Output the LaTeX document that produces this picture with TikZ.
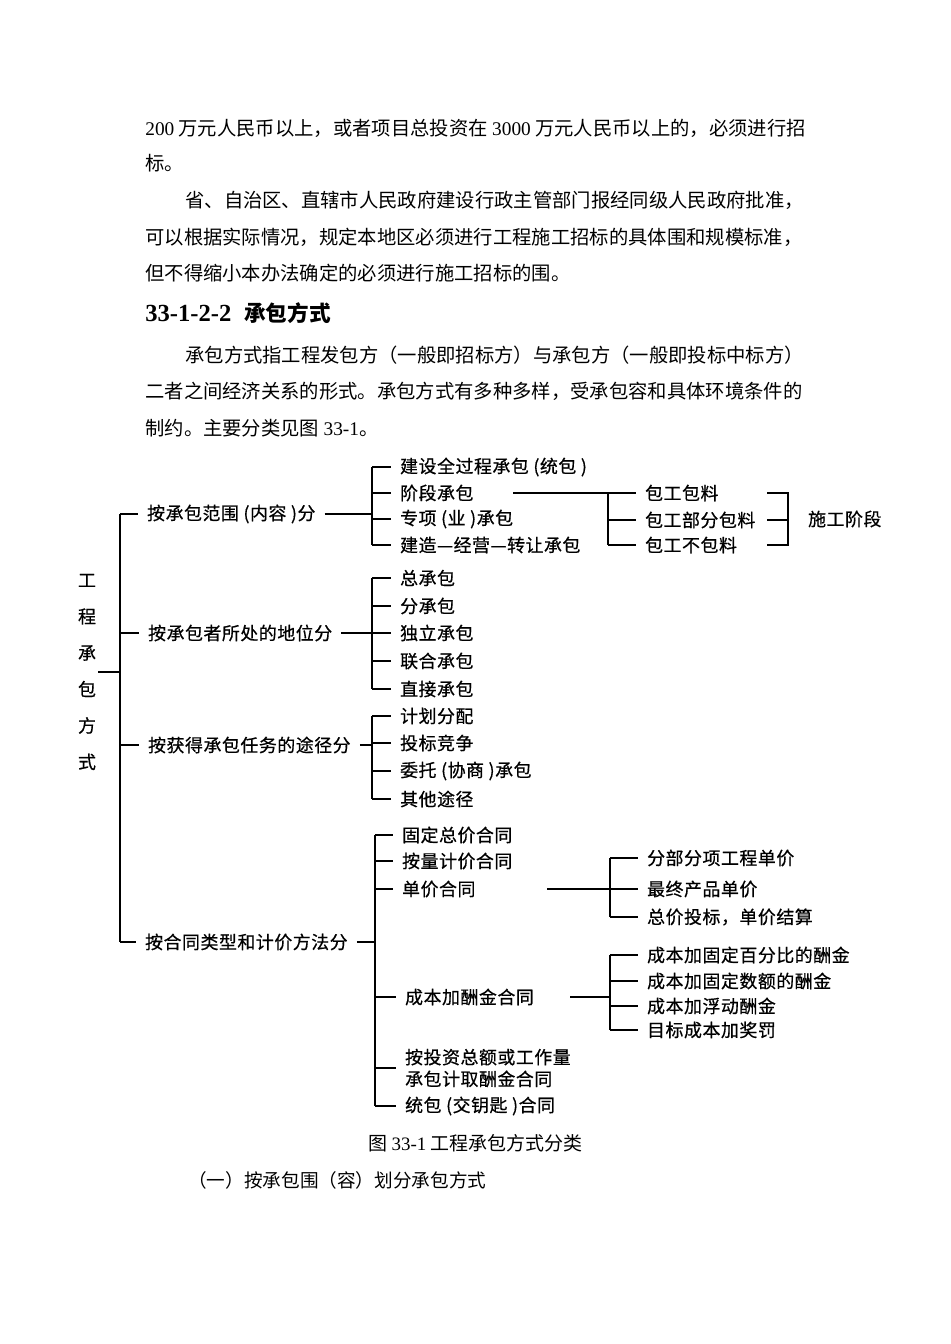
\documentclass[tikz,border=0pt]{standalone}
\usepackage{fontspec}
\setmainfont{Noto Sans CJK SC}
\newfontfamily\latin{Liberation Serif}
\newfontfamily\hei[FakeBold=0.6, LetterSpace=3]{Noto Sans CJK SC}
\usetikzlibrary{positioning}

\tikzset{
    body/.style={anchor=west, inner sep=0pt, font=\fontsize{11pt}{13pt}\selectfont},
    item/.style={anchor=west, inner xsep=5pt, inner ysep=1pt, font=\hei\fontsize{10.2pt}{12.4pt}\selectfont},
    rootlabel/.style={inner xsep=1pt, inner ysep=0pt, align=center, font=\hei\fontsize{10.2pt}{20.7pt}\selectfont},
    conn/.style={line width=0.6pt},
}

\begin{document}
\begin{tikzpicture}[x=0.02cm, y=-0.02cm]
    \useasboundingbox (0,0) rectangle (950,1344);

    % text above the figure
    \node[body] (p1) at (145,128) {{\latin 200} 万元人民币以上，或者项目总投资在 {\latin 3000} 万元人民币以上的，必须进行招};
    \node[body] (p2) at (145,163) {标。};
    \node[body] (p3) at (185,200) {省、自治区、直辖市人民政府建设行政主管部门报经同级人民政府批准，};
    \node[body] (p4) at (145,237) {可以根据实际情况，规定本地区必须进行工程施工招标的具体围和规模标准，};
    \node[body] (p5) at (145,273) {但不得缩小本办法确定的必须进行施工招标的围。};
    \node[body, font=\fontsize{12.3pt}{14pt}\selectfont\bfseries] (head) at (145,313) {{\latin\fontsize{14pt}{14pt}\selectfont 33-1-2-2}\hspace{0.6em}承包方式};
    \node[body] (p6) at (185,355) {承包方式指工程发包方（一般即招标方）与承包方（一般即投标中标方）};
    \node[body] (p7) at (145,391) {二者之间经济关系的形式。承包方式有多种多样，受承包容和具体环境条件的};
    \node[body] (p8) at (145,428) {制约。主要分类见图 {\latin 33-1}。};

    % root and first level
    \node[rootlabel] (root) at (87,672) {工\\程\\承\\包\\方\\式};
    \coordinate (trunk) at (120,0);

    \node[item] (g1) at (138,514) {按承包范围 (内容 )分};
    \node[item] (g2) at (139,633) {按承包者所处的地位分};
    \node[item] (g3) at (139,745) {按获得承包任务的途径分};
    \node[item] (g4) at (136,942) {按合同类型和计价方法分};

    \draw[conn] (root.east) -- (root.east -| trunk);
    \draw[conn] (g1.west -| trunk) -- (g4.west -| trunk);
    \foreach \n in {g1,g2,g3,g4}
        \draw[conn] (\n.west -| trunk) -- (\n.west);

    % by scope
    \coordinate (k1) at (372,0);
    \node[item] (a1) at (391,467) {建设全过程承包 (统包 )};
    \node[item] (a2) at (391,493) {阶段承包};
    \node[item] (a3) at (391,519) {专项 (业 )承包};
    \node[item] (a4) at (391,545) {建造—经营—转让承包};

    \draw[conn] (g1.east) -- (g1.east -| k1);
    \draw[conn] (a1.west -| k1) -- (a4.west -| k1);
    \foreach \n in {a1,a2,a3,a4}
        \draw[conn] (\n.west -| k1) -- (\n.west);

    % stage contracting
    \coordinate (a2s) at (513,493);
    \coordinate (k2) at (608,0);
    \node[item] (c1) at (636,493) {包工包料};
    \node[item] (c2) at (636,520) {包工部分包料};
    \node[item] (c3) at (636,545) {包工不包料};

    \draw[conn] (a2s) -- (a2s -| k2);
    \draw[conn] (c1.west -| k2) -- (c3.west -| k2);
    \foreach \n in {c1,c2,c3}
        \draw[conn] (\n.west -| k2) -- (\n.west);

    \coordinate (r1) at (767,0);
    \coordinate (r2) at (788,0);
    \node[item] (sg) at (799,519) {施工阶段};
    \draw[conn] (c1.west -| r1) -- (c1.west -| r2) -- (c3.west -| r2) -- (c3.west -| r1);
    \draw[conn] (c2.west -| r1) -- (c2.west -| r2);

    % by position
    \node[item] (b1) at (391,578) {总承包};
    \node[item] (b2) at (391,606) {分承包};
    \node[item] (b3) at (391,633) {独立承包};
    \node[item] (b4) at (391,661) {联合承包};
    \node[item] (b5) at (391,689) {直接承包};

    \draw[conn] (g2.east) -- (g2.east -| k1);
    \draw[conn] (b1.west -| k1) -- (b5.west -| k1);
    \foreach \n in {b1,b2,b3,b4,b5}
        \draw[conn] (\n.west -| k1) -- (\n.west);

    % by way of getting the task
    \node[item] (h1) at (391,716) {计划分配};
    \node[item] (h2) at (391,743) {投标竞争};
    \node[item] (h3) at (391,771) {委托 (协商 )承包};
    \node[item] (h4) at (391,799) {其他途径};

    \draw[conn] (g3.east) -- (g3.east -| k1);
    \draw[conn] (h1.west -| k1) -- (h4.west -| k1);
    \foreach \n in {h1,h2,h3,h4}
        \draw[conn] (\n.west -| k1) -- (\n.west);

    % by contract type
    \coordinate (k4) at (375,0);
    \node[item] (d1) at (393,835) {固定总价合同};
    \node[item] (d2) at (393,861) {按量计价合同};
    \node[item] (d3) at (393,889) {单价合同};
    \node[item] (d4) at (396,997) {成本加酬金合同};
    \node[item, align=left] (d5) at (396,1068) {按投资总额或工作量\\承包计取酬金合同};
    \node[item] (d6) at (396,1106) {统包 (交钥匙 )合同};

    \draw[conn] (g4.east) -- (g4.east -| k4);
    \draw[conn] (d1.west -| k4) -- (d6.west -| k4);
    \foreach \n in {d1,d2,d3,d4,d5,d6}
        \draw[conn] (\n.west -| k4) -- (\n.west);

    % unit price
    \coordinate (d3s) at (547,889);
    \coordinate (k5) at (610,0);
    \node[item] (e1) at (638,858) {分部分项工程单价};
    \node[item] (e2) at (638,889) {最终产品单价};
    \node[item] (e3) at (638,917) {总价投标，单价结算};

    \draw[conn] (d3s) -- (d3s -| k5);
    \draw[conn] (e1.west -| k5) -- (e3.west -| k5);
    \foreach \n in {e1,e2,e3}
        \draw[conn] (\n.west -| k5) -- (\n.west);

    % cost plus fee
    \coordinate (d4s) at (570,997);
    \node[item] (f1) at (638,955) {成本加固定百分比的酬金};
    \node[item] (f2) at (638,981) {成本加固定数额的酬金};
    \node[item] (f3) at (638,1006) {成本加浮动酬金};
    \node[item] (f4) at (638,1030) {目标成本加奖罚};

    \draw[conn] (d4s) -- (d4s -| k5);
    \draw[conn] (f1.west -| k5) -- (f4.west -| k5);
    \foreach \n in {f1,f2,f3,f4}
        \draw[conn] (\n.west -| k5) -- (\n.west);

    % caption and next line
    \node[body, font=\fontsize{10.8pt}{12pt}\selectfont] (cap) at (368,1143) {图 {\latin 33-1} 工程承包方式分类};
    \node[body, font=\fontsize{10.6pt}{12pt}\selectfont] (p9) at (188,1180) {（一）按承包围（容）划分承包方式};
\end{tikzpicture}
\end{document}
